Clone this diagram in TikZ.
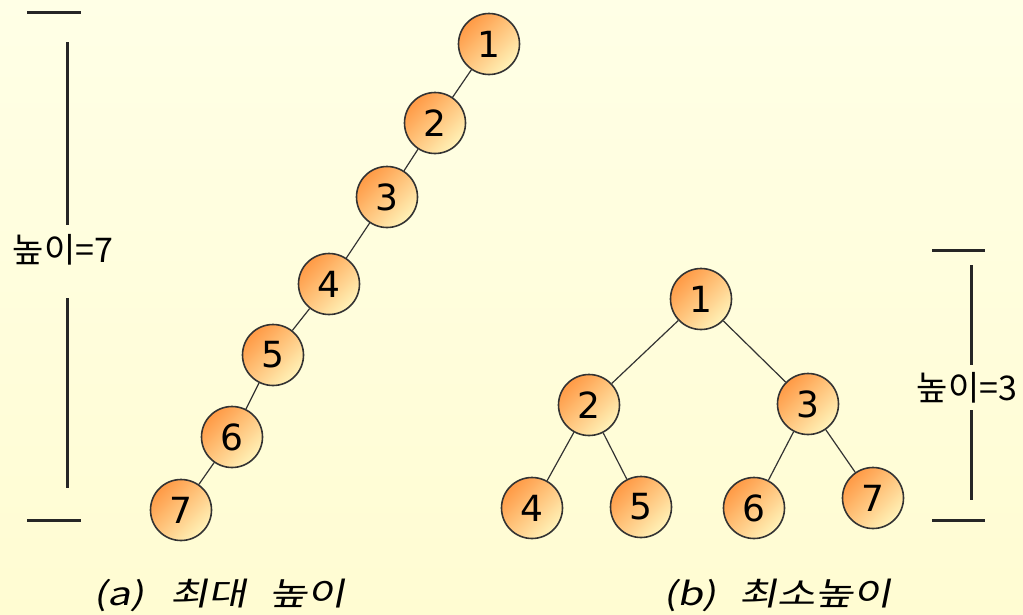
\documentclass[tikz,border=0pt]{standalone}
\usepackage{fontspec}
\setmainfont{DejaVu Sans}
\newfontfamily\krfont{Noto Sans CJK KR}
\newfontfamily\krslant[FakeSlant=0.2, FakeStretch=1.3]{Noto Sans CJK KR}
\usetikzlibrary{positioning}

\definecolor{nodedark}{HTML}{FF9A45}
\definecolor{nodelight}{HTML}{FFF2B8}
\definecolor{bgtop}{HTML}{FFFFE6}
\definecolor{bgbottom}{HTML}{FFFCD2}

\begin{document}
\begin{tikzpicture}[x=1pt, y=-1pt,
    vert/.style={circle, draw=black!80, line width=1.6pt, minimum size=61pt,
      inner sep=0pt, top color=nodedark, bottom color=nodelight,
      shading angle=45, font=\fontsize{36}{36}\selectfont},
    edge/.style={draw=black!80, line width=1.2pt},
    bar/.style={draw=black!85, line width=3pt},
    hlabel/.style={font=\krfont\fontsize{34}{34}\selectfont, inner sep=0pt},
    caption/.style={font=\krslant\fontsize{32}{32}\selectfont, inner sep=0pt,
      anchor=west}
  ]
  \fill[top color=bgtop, bottom color=bgbottom] (0,0) rectangle (1023,614);
  \useasboundingbox (0,0) rectangle (1023,614);

  % (a) skewed tree
  \node[vert] (a1) at (489,44) {1};
  \node[vert] (a2) at (435,123) {2};
  \node[vert] (a3) at (387,197) {3};
  \node[vert] (a4) at (329,284) {4};
  \node[vert] (a5) at (273,355) {5};
  \node[vert] (a6) at (232,437) {6};
  \node[vert] (a7) at (181,510) {7};
  \foreach \i/\j in {1/2,2/3,3/4,4/5,5/6,6/7}
    \draw[edge] (a\i) -- (a\j);

  % (b) complete tree
  \node[vert] (b1) at (701,299) {1};
  \node[vert] (b2) at (589,405) {2};
  \node[vert] (b3) at (808,404) {3};
  \node[vert] (b4) at (532,508) {4};
  \node[vert] (b5) at (641,507) {5};
  \node[vert] (b6) at (754,508) {6};
  \node[vert] (b7) at (873,498) {7};
  \foreach \i/\j in {1/2,1/3,2/4,2/5,3/6,3/7}
    \draw[edge] (b\i) -- (b\j);

  % height bars
  \node[hlabel] (ha) at (63,250) {높이=7};
  \coordinate (haT1) at (27,12);  \coordinate (haT2) at (81,12);
  \coordinate (haB1) at (27,520); \coordinate (haB2) at (81,520);
  \coordinate (haU1) at (67,42);  \coordinate (haU2) at (67,225);
  \coordinate (haD1) at (67,298); \coordinate (haD2) at (67,488);
  \draw[bar] (haT1) -- (haT2);
  \draw[bar] (haB1) -- (haB2);
  \draw[bar] (haU1) -- (haU2);
  \draw[bar] (haD1) -- (haD2);

  \node[hlabel] (hb) at (967,388) {높이=3};
  \coordinate (hbT1) at (932,250); \coordinate (hbT2) at (985,250);
  \coordinate (hbB1) at (932,520); \coordinate (hbB2) at (985,520);
  \coordinate (hbU1) at (971,265); \coordinate (hbU2) at (971,365);
  \coordinate (hbD1) at (971,410); \coordinate (hbD2) at (971,500);
  \draw[bar] (hbT1) -- (hbT2);
  \draw[bar] (hbB1) -- (hbB2);
  \draw[bar] (hbU1) -- (hbU2);
  \draw[bar] (hbD1) -- (hbD2);

  % captions
  \node[caption] (capa) at (93,595) {(a)\hspace{26pt}최대\hspace{22pt}높이};
  \node[caption] (capb) at (663,595) {(b)\hspace{22pt}최소높이};
\end{tikzpicture}
\end{document}
